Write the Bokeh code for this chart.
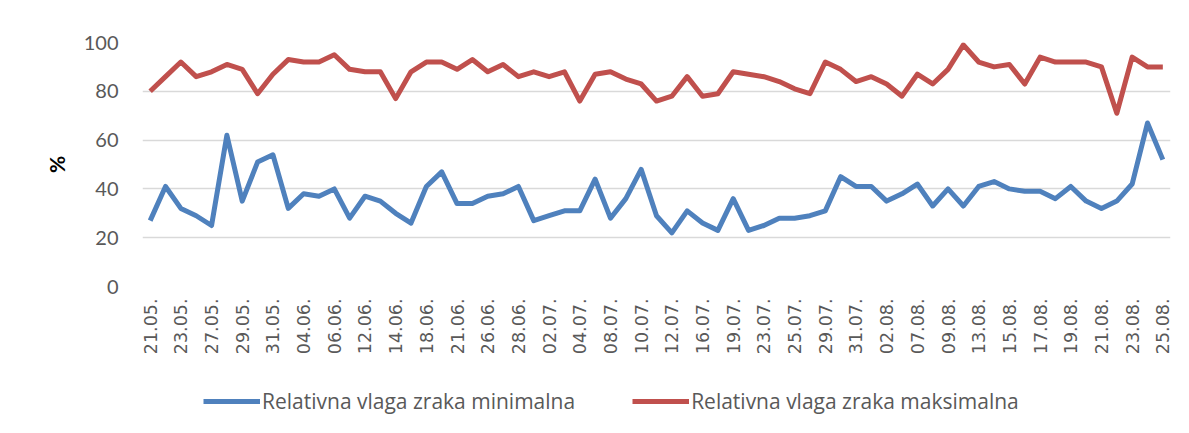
from bokeh.plotting import figure
from bokeh.layouts import column
from bokeh.models import Legend, LegendItem, FixedTicker, Range1d, ColumnDataSource
from bokeh.embed import file_html
from bokeh.resources import INLINE
import math

tick_labels = ["21.05.", "23.05.", "27.05.", "29.05.", "31.05.", "04.06.", "06.06.", "12.06.",
               "14.06.", "18.06.", "21.06.", "26.06.", "28.06.", "02.07.", "04.07.", "08.07.",
               "10.07.", "12.07.", "16.07.", "19.07.", "23.07.", "25.07.", "29.07.", "31.07.",
               "02.08.", "07.08.", "09.08.", "13.08.", "15.08.", "17.08.", "19.08.", "21.08.",
               "23.08.", "25.08."]

vlaga_min = [27, 41, 32, 29, 25, 62, 35, 51, 54, 32, 38, 37, 40, 28, 37, 35, 30, 26, 41, 47, 34,
             34, 37, 38, 41, 27, 29, 31, 31, 44, 28, 36, 48, 29, 22, 31, 26, 23, 36, 23, 25,
             28, 28, 29, 31, 45, 41, 41, 35, 38, 42, 33, 40, 33, 41, 43, 40, 39, 39, 36, 41,
             35, 32, 35, 42, 67, 52]
vlaga_max = [80, 86, 92, 86, 88, 91, 89, 79, 87, 93, 92, 92, 95, 89, 88, 88, 77, 88, 92, 92, 89,
             93, 88, 91, 86, 88, 86, 88, 76, 87, 88, 85, 83, 76, 78, 86, 78, 79, 88, 87, 86,
             84, 81, 79, 92, 89, 84, 86, 83, 78, 87, 83, 89, 99, 92, 90, 91, 83, 94, 92, 92,
             92, 90, 71, 94, 90, 90]

series_names = ["Relativna vlaga zraka minimalna", "Relativna vlaga zraka maksimalna"]
colors = ["#4F81BD", "#C0504D"]

n = len(vlaga_min)
xs = list(range(n))
src = ColumnDataSource(data=dict(x=xs, vmin=vlaga_min, vmax=vlaga_max))

W = 1173
H_MAIN = 360
H_LEG = 57

p = figure(width=W, height=H_MAIN, output_backend="svg", toolbar_location=None,
           x_range=Range1d(-0.5, n - 0.5), y_range=Range1d(0, 100),
           min_border_left=142, min_border_right=3, min_border_top=42, min_border_bottom=74)
p.outline_line_color = None
p.background_fill_color = "white"
p.border_fill_color = "white"

p.line("x", "vmin", source=src, line_color=colors[0], line_width=5, line_join="round")
p.line("x", "vmax", source=src, line_color=colors[1], line_width=5, line_join="round")

# x axis
tick_pos = list(range(0, n, 2))
xax = p.xaxis[0]
xax.ticker = FixedTicker(ticks=tick_pos)
xax.major_label_overrides = {t: lab for t, lab in zip(tick_pos, tick_labels)}
xax.major_label_orientation = math.pi / 2
xax.major_label_text_font = "DejaVu Sans"
xax.major_label_text_font_size = "17.5px"
xax.major_label_text_color = "#595959"
xax.major_label_standoff = 12
xax.major_tick_out = 0
xax.major_tick_in = 0
xax.minor_tick_out = 0
xax.minor_tick_in = 0
xax.axis_line_color = None
xax.major_tick_line_color = None
xax.minor_tick_line_color = None
p.xgrid.grid_line_color = None

# y axis
yax = p.yaxis[0]
yax.ticker = FixedTicker(ticks=[0, 20, 40, 60, 80, 100])
yax.major_label_text_font = "Lato"
yax.major_label_text_font_size = "20px"
yax.major_label_text_color = "#595959"
yax.major_label_standoff = 24
yax.major_tick_out = 0
yax.major_tick_in = 0
yax.minor_tick_out = 0
yax.minor_tick_in = 0
yax.axis_line_color = None
yax.major_tick_line_color = None
yax.minor_tick_line_color = None
yax.axis_label = "%"
yax.axis_label_text_font = "Lato"
yax.axis_label_text_font_style = "bold"
yax.axis_label_text_font_size = "21px"
yax.axis_label_text_color = "black"
yax.axis_label_standoff = 12
p.ygrid.grid_line_color = "#D9D9D9"
p.ygrid.grid_line_width = 1.5

# legend strip below the chart (its line renderers sit outside the visible range)
pl = figure(width=W, height=H_LEG, output_backend="svg", toolbar_location=None,
            x_range=Range1d(-0.5, n - 0.5), y_range=Range1d(1000, 1001),
            x_axis_type=None, y_axis_type=None,
            min_border_left=0, min_border_right=0, min_border_top=0, min_border_bottom=0)
pl.outline_line_color = None
pl.grid.grid_line_color = None
pl.background_fill_color = "white"
pl.border_fill_color = "white"
l1 = pl.line("x", "vmin", source=src, line_color=colors[0], line_width=5)
l2 = pl.line("x", "vmax", source=src, line_color=colors[1], line_width=5)

legend = Legend(items=[LegendItem(label=series_names[0], renderers=[l1]),
                       LegendItem(label=series_names[1], renderers=[l2])],
                orientation="horizontal", location=(61, 2),
                label_text_font="Open Sans", label_text_font_size="21px", label_text_color="#595959",
                glyph_width=57, glyph_height=20, label_standoff=2, spacing=57,
                padding=0, margin=0, border_line_color=None, background_fill_alpha=0)
pl.add_layout(legend, "center")

layout = column(p, pl, spacing=0)
open("out.html", "w").write(file_html(layout, INLINE))
